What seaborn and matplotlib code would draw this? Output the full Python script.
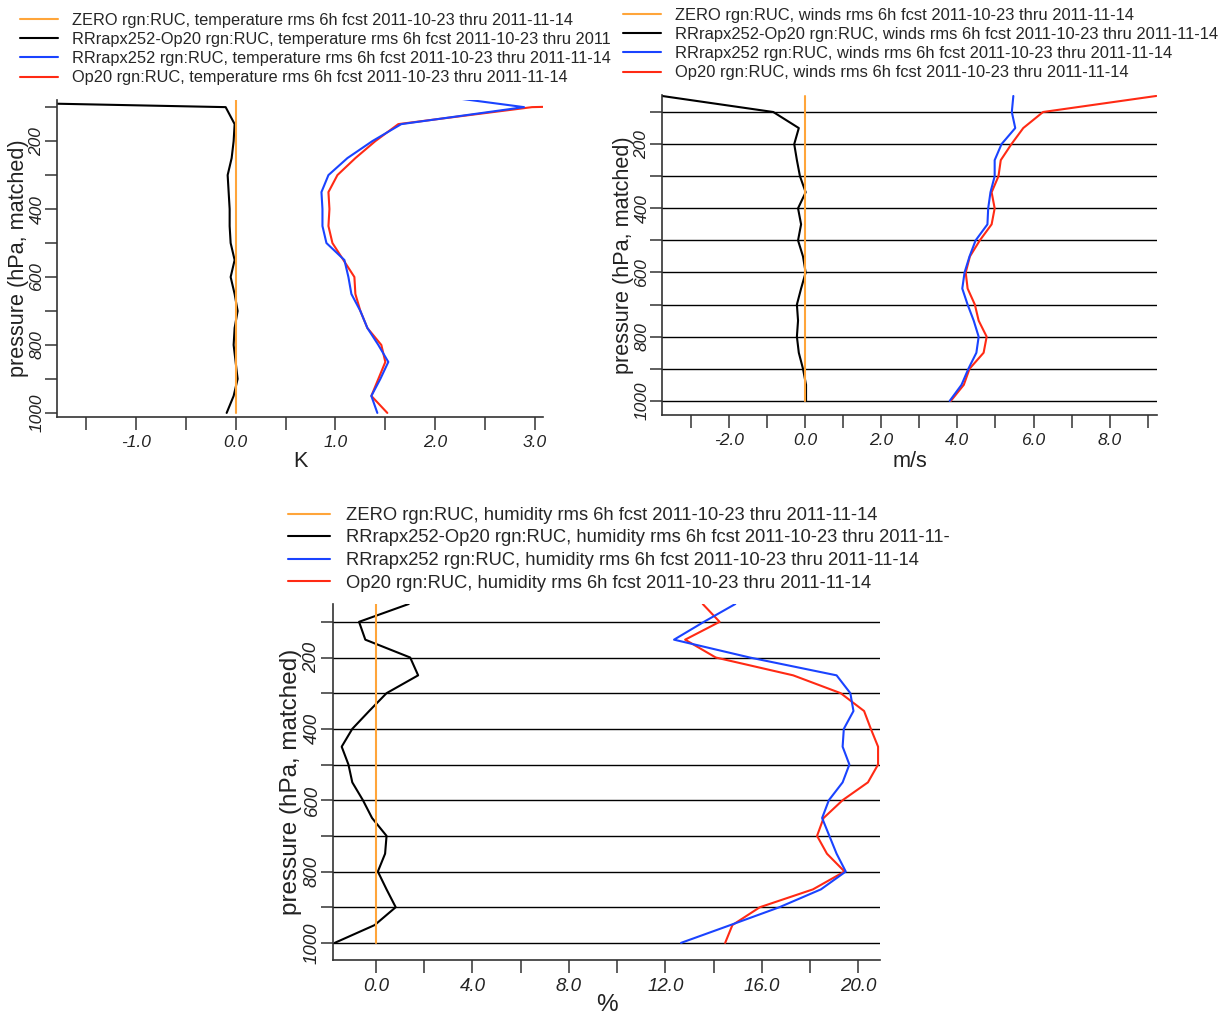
import numpy as np
import pandas as pd
import matplotlib
matplotlib.use("Agg")
import matplotlib.pyplot as plt
from matplotlib.ticker import MultipleLocator, FixedLocator, FormatStrFormatter
import seaborn as sns

# ---------------- data ----------------
levels = [50, 100, 150, 200, 250, 300, 350, 400, 450, 500, 550, 600, 650,
          700, 750, 800, 850, 900, 950, 1000]
zero = [0.0] * len(levels)

temp_exp = [1.6, 2.89, 1.66, 1.37, 1.12, 0.93, 0.86, 0.87, 0.87, 0.91, 1.09,
            1.13, 1.16, 1.25, 1.32, 1.43, 1.53, 1.45, 1.36, 1.42]
temp_op = [10.1, 2.97, 1.63, 1.40, 1.20, 1.02, 0.93, 0.94, 0.93, 0.97, 1.08,
           1.19, 1.20, 1.25, 1.32, 1.46, 1.50, 1.43, 1.36, 1.52]
temp_diff = [-8.5, -0.10, -0.01, -0.02, -0.04, -0.08, -0.07, -0.06, -0.06, -0.05,
             -0.01, -0.05, -0.01, 0.02, -0.01, -0.02, 0.0, 0.02, -0.02, -0.09]

wind_exp = [5.47, 5.43, 5.52, 5.16, 4.98, 4.98, 4.87, 4.81, 4.79, 4.48, 4.32,
            4.19, 4.13, 4.27, 4.43, 4.56, 4.50, 4.29, 4.11, 3.80]
wind_op = [9.22, 6.25, 5.73, 5.42, 5.14, 5.08, 4.90, 4.98, 4.90, 4.59, 4.33,
           4.22, 4.27, 4.46, 4.56, 4.77, 4.69, 4.32, 4.17, 3.83]
wind_diff = [-3.75, -0.83, -0.16, -0.28, -0.21, -0.13, 0.02, -0.18, -0.10, -0.18,
             -0.05, 0.02, -0.10, -0.21, -0.18, -0.21, -0.16, -0.05, 0.03, 0.03]

hum_exp = [14.9, 13.6, 12.36, 15.5, 19.1, 19.67, 19.8, 19.4, 19.35, 19.63, 19.35,
           18.78, 18.5, 18.8, 19.1, 19.48, 18.45, 16.73, 14.7, 12.65]
hum_op = [13.55, 14.25, 12.82, 14.09, 17.3, 19.27, 20.24, 20.52, 20.82, 20.82,
          20.4, 19.35, 18.56, 18.29, 18.7, 19.43, 18.12, 15.92, 14.78, 14.48]
hum_diff = [1.36, -0.70, -0.44, 1.42, 1.75, 0.44, -0.28, -0.98, -1.42, -1.14,
            -0.98, -0.54, -0.16, 0.44, 0.38, 0.08, 0.44, 0.82, -0.05, -1.71]

series_names = ["ZERO", "RRrapx252-Op20", "RRrapx252", "Op20"]
temp_labels = [
    "ZERO rgn:RUC, temperature rms 6h fcst 2011-10-23 thru 2011-11-14",
    "RRrapx252-Op20 rgn:RUC, temperature rms 6h fcst 2011-10-23 thru 2011",
    "RRrapx252 rgn:RUC, temperature rms 6h fcst 2011-10-23 thru 2011-11-14",
    "Op20 rgn:RUC, temperature rms 6h fcst 2011-10-23 thru 2011-11-14",
]
wind_labels = [
    "ZERO rgn:RUC, winds rms 6h fcst 2011-10-23 thru 2011-11-14",
    "RRrapx252-Op20 rgn:RUC, winds rms 6h fcst 2011-10-23 thru 2011-11-14",
    "RRrapx252 rgn:RUC, winds rms 6h fcst 2011-10-23 thru 2011-11-14",
    "Op20 rgn:RUC, winds rms 6h fcst 2011-10-23 thru 2011-11-14",
]
hum_labels = [
    "ZERO rgn:RUC, humidity rms 6h fcst 2011-10-23 thru 2011-11-14",
    "RRrapx252-Op20 rgn:RUC, humidity rms 6h fcst 2011-10-23 thru 2011-11-",
    "RRrapx252 rgn:RUC, humidity rms 6h fcst 2011-10-23 thru 2011-11-14",
    "Op20 rgn:RUC, humidity rms 6h fcst 2011-10-23 thru 2011-11-14",
]

# ---------------- style ----------------
sns.set_style("ticks")
plt.rcParams["font.family"] = ["Liberation Sans", "DejaVu Sans"]

COL_ZERO = "#ffa53a"
COL_DIFF = "#000000"
COL_EXP = "#1a43ff"
COL_OP = "#ff2a14"

W, H = 1226, 1015
fig = plt.figure(figsize=(W / 100, H / 100), dpi=100)


def px_axes(left, top, right, bottom):
    return fig.add_axes([left / W, 1 - bottom / H, (right - left) / W, (bottom - top) / H])


def draw_panel(ax, exp, op, diff, labels, xlim, ylim, xmajor, xunit, grid,
               leg_xy, fs_leg, fs_tick, fs_lab, ylab_pad, xlab_pad, leg_spacing):
    df = pd.DataFrame({"p": levels, "zero": zero, "diff": diff, "exp": exp, "op": op})
    lw = 1.5
    sns.lineplot(data=df, x="op", y="p", orient="y", sort=False, estimator=None,
                 color=COL_OP, lw=lw, ax=ax, legend=False)
    sns.lineplot(data=df, x="exp", y="p", orient="y", sort=False, estimator=None,
                 color=COL_EXP, lw=lw, ax=ax, legend=False)
    sns.lineplot(data=df, x="diff", y="p", orient="y", sort=False, estimator=None,
                 color=COL_DIFF, lw=lw, ax=ax, legend=False)
    sns.lineplot(data=df, x="zero", y="p", orient="y", sort=False, estimator=None,
                 color=COL_ZERO, lw=lw, ax=ax, legend=False)
    lines = ax.get_lines()
    handles = [lines[3], lines[2], lines[1], lines[0]]

    ax.set_xlim(*xlim)
    ax.set_ylim(*ylim)
    ax.xaxis.set_major_locator(MultipleLocator(xmajor))
    ax.xaxis.set_minor_locator(MultipleLocator(xmajor / 2))
    ax.xaxis.set_major_formatter(FormatStrFormatter("%.1f"))
    ax.yaxis.set_major_locator(FixedLocator([200, 400, 600, 800, 1000]))
    ax.yaxis.set_minor_locator(FixedLocator([100, 300, 500, 700, 900]))
    ax.tick_params(axis="both", which="both", direction="out", length=9, width=1.1,
                   color="#333333")
    ax.tick_params(axis="x", which="major", labelsize=fs_tick, pad=4)
    ax.tick_params(axis="y", which="major", labelsize=fs_tick, pad=0)
    for t in ax.get_xticklabels():
        t.set_fontstyle("italic")
        t.set_color("#222222")
    for t in ax.get_yticklabels():
        t.set_fontstyle("italic")
        t.set_rotation(90)
        t.set_va("center")
        t.set_color("#222222")
    if grid:
        ax.grid(True, axis="y", which="both", color="black", lw=1.0)
    else:
        ax.grid(False)
    ax.set_axisbelow(True)
    for s in ["top", "right"]:
        ax.spines[s].set_visible(False)
    for s in ["left", "bottom"]:
        ax.spines[s].set_color("#333333")
        ax.spines[s].set_linewidth(1.2)
    ax.set_ylabel("pressure (hPa, matched)", fontsize=fs_lab, labelpad=ylab_pad,
                  color="#222222")
    ax.set_xlabel(xunit, fontsize=fs_lab, labelpad=xlab_pad, color="#222222")

    fig.legend(handles, labels, loc="upper left",
               bbox_to_anchor=(leg_xy[0] / W, 1 - leg_xy[1] / H),
               frameon=False, fontsize=fs_leg, handlelength=2.3, handletextpad=0.85,
               labelspacing=leg_spacing, borderaxespad=0, borderpad=0)


ax1 = px_axes(57, 100, 543, 417)
draw_panel(ax1, temp_exp, temp_op, temp_diff, temp_labels,
           (-1.79, 3.08), (1012, 79), 1.0, "K", False,
           (20, 13), 11.8, 12.5, 15.6, 0.5, 1, 0.25)

ax2 = px_axes(662, 95, 1157, 415)
draw_panel(ax2, wind_exp, wind_op, wind_diff, wind_labels,
           (-3.75, 9.24), (1044, 47), 2.0, "m/s", True,
           (623, 8), 11.9, 12.5, 15.6, 0.5, 2, 0.25)

ax3 = px_axes(333, 604, 880, 960)
draw_panel(ax3, hum_exp, hum_op, hum_diff, hum_labels,
           (-1.78, 20.9), (1048, 50), 4.0, "%", True,
           (288, 507), 13.2, 13.5, 17.5, 1, -1, 0.3)

fig.savefig("out.png", dpi=100)
